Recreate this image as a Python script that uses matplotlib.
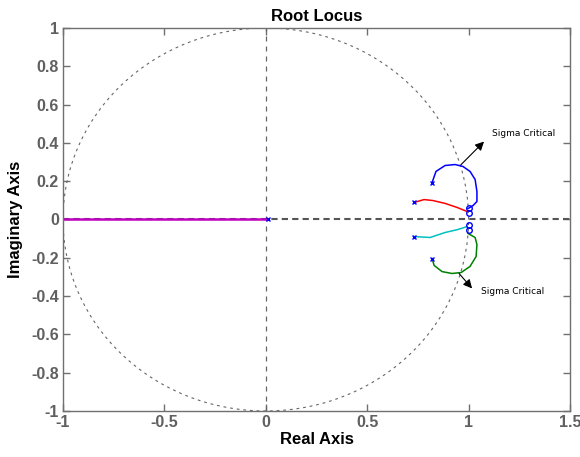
import numpy as np
import matplotlib
matplotlib.use("Agg")
import matplotlib.pyplot as plt

# Root locus branches (real, imag) for the four complex poles
blue_re = [0.820, 0.839, 0.884, 0.933, 0.972, 1.007, 1.032, 1.041, 1.041, 1.022, 0.997]
blue_im = [0.193, 0.251, 0.282, 0.287, 0.277, 0.251, 0.209, 0.146, 0.094, 0.073, 0.057]
red_re = [0.731, 0.780, 0.824, 0.884, 0.943, 0.992]
red_im = [0.089, 0.104, 0.099, 0.084, 0.063, 0.042]
cyan_re = [0.731, 0.810, 0.884, 0.948, 0.992]
cyan_im = [-0.089, -0.094, -0.068, -0.052, -0.037]
green_re = [0.820, 0.830, 0.869, 0.918, 0.963, 1.007, 1.037, 1.041, 1.032, 0.997]
green_im = [-0.204, -0.240, -0.272, -0.282, -0.277, -0.245, -0.193, -0.131, -0.094, -0.073]

# Real-axis branch from the pole near the origin
real_branch_re = [-1.0, 0.011]
real_branch_im = [0.0, 0.0]

# Open-loop poles and zeros
pole_re = [0.820, 0.731, 0.731, 0.820, 0.011]
pole_im = [0.193, 0.089, -0.089, -0.204, 0.0]
zero_re = [1.0, 1.0, 1.0, 1.0]
zero_im = [0.06, 0.033, -0.028, -0.055]

fig = plt.figure(figsize=(5.8, 4.57), dpi=100)
ax = fig.add_axes([0.1086, 0.1007, 0.8742, 0.838])

# unit circle
t = np.linspace(0, 2 * np.pi, 400)
ax.plot(np.cos(t), np.sin(t), color="#666666", lw=0.8, ls=(0, (2.5, 3.5)))

# axes through origin
ax.plot([0, 0], [-1, 1], color="#666666", lw=0.9, ls=(0, (4, 4)))
ax.plot([-1, 1.5], [0, 0], color="#555555", lw=1.5, ls=(0, (3, 2)))

ax.plot(real_branch_re, real_branch_im, color="#c000c0", lw=1.8)
ax.plot(blue_re, blue_im, color="#0000ff", lw=1.1)
ax.plot(red_re, red_im, color="#ff0000", lw=1.1)
ax.plot(cyan_re, cyan_im, color="#00c0c0", lw=1.1)
ax.plot(green_re, green_im, color="#008000", lw=1.1)

ax.plot(pole_re, pole_im, ls="none", marker="x", color="#0000ff", ms=3.5, mew=1.0)
ax.plot(zero_re, zero_im, ls="none", marker="o", mfc="none", mec="#0000ff", ms=4, mew=1.0)

arrow = dict(arrowstyle="-|>", color="black", lw=0.8, mutation_scale=13, shrinkA=0, shrinkB=0)
ax.annotate("", xy=(1.076, 0.407), xytext=(0.963, 0.287), arrowprops=arrow)
ax.text(1.115, 0.45, "Sigma Critical", fontsize=6.5, va="center", ha="left")
ax.annotate("", xy=(1.017, -0.36), xytext=(0.953, -0.282), arrowprops=arrow)
ax.text(1.061, -0.376, "Sigma Critical", fontsize=6.5, va="center", ha="left")

ax.set_xlim(-1, 1.5)
ax.set_ylim(-1, 1)
ax.set_xticks([-1, -0.5, 0, 0.5, 1, 1.5])
ax.set_xticklabels(["-1", "-0.5", "0", "0.5", "1", "1.5"])
ax.set_yticks(np.round(np.arange(-1, 1.01, 0.2), 1))
ax.set_yticklabels(["-1", "-0.8", "-0.6", "-0.4", "-0.2", "0", "0.2", "0.4", "0.6", "0.8", "1"])

for s in ax.spines.values():
    s.set_color("#707070")
    s.set_linewidth(1.0)
ax.tick_params(direction="in", length=5, width=1.0, color="#707070",
               top=True, right=True, labelcolor="#606060", labelsize=11.5, pad=3)
for lab in ax.get_xticklabels() + ax.get_yticklabels():
    lab.set_fontweight("bold")
    lab.set_fontfamily("Liberation Sans")

ax.set_title("Root Locus", fontsize=12, fontweight="bold", family="Liberation Sans", pad=5)
ax.set_xlabel("Real Axis", fontsize=12, fontweight="bold", family="Liberation Sans", labelpad=1)
ax.set_ylabel("Imaginary Axis", fontsize=12, fontweight="bold", family="Liberation Sans", labelpad=6)

fig.savefig("out.png", dpi=100)
